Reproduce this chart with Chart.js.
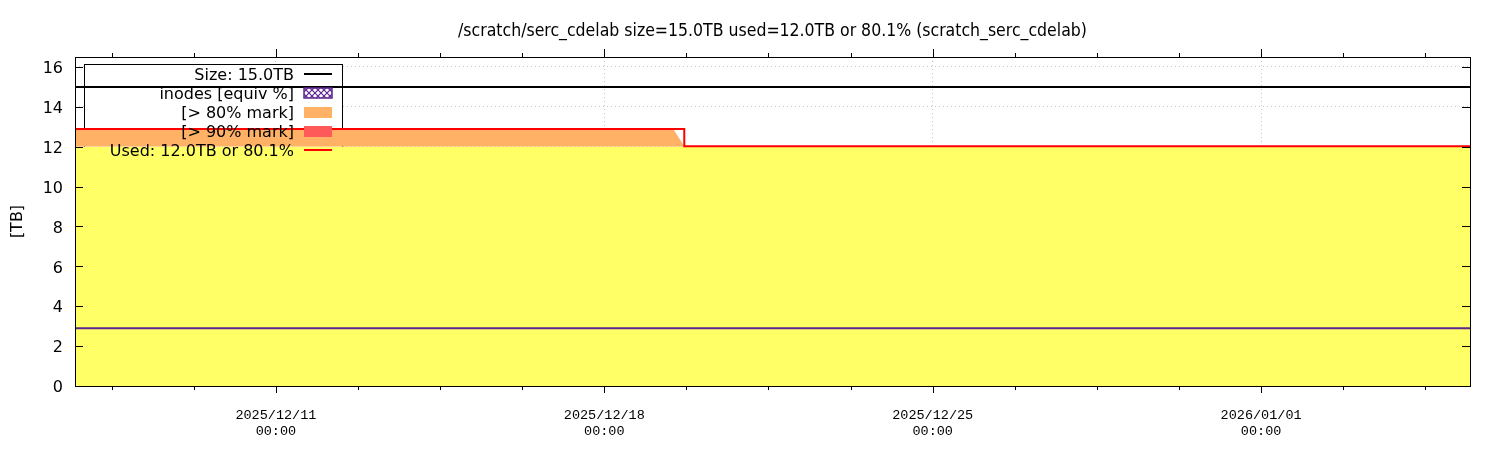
<!DOCTYPE html>
<html>
<head>
<meta charset="utf-8">
<script src="https://cdn.jsdelivr.net/npm/chart.js@4.4.1/dist/chart.umd.min.js"></script>
<style>
  html, body { margin: 0; padding: 0; background: #fff; }
  #wrap { width: 1500px; height: 450px; }
</style>
</head>
<body>
<div id="wrap"><canvas id="fs__chart"></canvas></div>
<script>
// samples (TB)
const times = ["2025-12-06 17:14", "2025-12-19 11:18", "2025-12-19 16:55", "2026-01-05 10:52"]
const usedTB = [12.89, 12.89, 12.02, 12.02]
const sizeTB = [15.0, 15.0, 15.0, 15.0]
const inodesTB = [2.9, 2.9, 2.9, 2.9]
const mark80 = 12.0
const mark90 = 13.5

const majorTicks = ["2025-12-11 00:00", "2025-12-18 00:00", "2025-12-25 00:00", "2026-01-01 00:00"]
const minorPerMajor = 4
const yTicks = [0, 2, 4, 6, 8, 10, 12, 14, 16]
const yMax = 16.5

const titleText = "/scratch/serc_cdelab size=15.0TB used=12.0TB or 80.1% (scratch_serc_cdelab)"
const legendLabels = ["Size: 15.0TB", "inodes [equiv %]", "[> 80% mark]", "[> 90% mark]", "Used: 12.0TB or 80.1%"]

const YELLOW = "#ffff66"
const ORANGE = "#ffb266"
const RED90 = "#ff5a5a"
const RED = "#ff0000"
const PURPLE = "#5e2590"

function toMs(s) {
  const [d, t] = s.split(" ")
  const [y, m, day] = d.split("-").map(Number)
  const [hh, mm] = t.split(":").map(Number)
  return Date.UTC(y, m - 1, day, hh, mm)
}
const pad2 = (n) => String(n).padStart(2, "0")

const xMin = toMs(times[0])
const xMax = toMs(times[times.length - 1])
const majorMs = majorTicks.map(toMs)
const stepMs = (majorMs[1] - majorMs[0]) / minorPerMajor

let allTicks = []
for (let v = majorMs[0]; v >= xMin; v -= stepMs) allTicks.unshift(v)
for (let v = majorMs[0] + stepMs; v <= xMax; v += stepMs) allTicks.push(v)
const isMajor = (v) => majorMs.some((m) => Math.abs(m - v) < 1000)

const pts = (arr) => times.map((t, i) => ({ x: toMs(t), y: arr[i] }))
const yellowTop = usedTB.map((v) => Math.min(v, mark80))

function hatchPattern(ctx) {
  const c = document.createElement("canvas")
  c.width = 6
  c.height = 6
  const p = c.getContext("2d")
  p.fillStyle = "#fff"
  p.fillRect(0, 0, 6, 6)
  p.strokeStyle = PURPLE
  p.lineWidth = 1.2
  p.beginPath()
  p.moveTo(0, 0); p.lineTo(6, 6)
  p.moveTo(6, 0); p.lineTo(0, 6)
  p.stroke()
  return ctx.createPattern(c, "repeat")
}

const legendBox = { x1: 84.5, y1: 64.5, x2: 342.5, y2: 160, textX: 294, swX1: 304, swX2: 332, row0: 74, rowH: 19 }

const gnuplotLook = {
  id: "gnuplotLook",
  beforeDatasetsDraw(chart) {
    const ctx = chart.ctx
    const b = legendBox
    ctx.save()
    ctx.fillStyle = "#fff"
    ctx.fillRect(b.x1, b.y1, b.x2 - b.x1, b.y2 - b.y1)
    ctx.strokeStyle = "#000"
    ctx.lineWidth = 1
    ctx.strokeRect(b.x1, b.y1, b.x2 - b.x1, b.y2 - b.y1)
    ctx.restore()
  },
  afterDatasetsDraw(chart) {
    const ctx = chart.ctx
    const a = chart.chartArea
    const xs = chart.scales.x
    const ys = chart.scales.y
    ctx.save()

    // legend text + samples
    const b = legendBox
    ctx.font = "16px 'DejaVu Sans'"
    ctx.textAlign = "right"
    ctx.textBaseline = "middle"
    legendLabels.forEach((lbl, i) => {
      const y = b.row0 + i * b.rowH
      ctx.fillStyle = "#000"
      ctx.fillText(lbl, b.textX, y + 2)
      if (i === 0 || i === 4) {
        ctx.strokeStyle = i === 0 ? "#000" : RED
        ctx.lineWidth = 2
        ctx.beginPath()
        ctx.moveTo(b.swX1, y)
        ctx.lineTo(b.swX2, y)
        ctx.stroke()
      } else if (i === 1) {
        ctx.fillStyle = hatchPattern(ctx)
        ctx.fillRect(b.swX1, y - 5, b.swX2 - b.swX1, 10)
        ctx.strokeStyle = PURPLE
        ctx.lineWidth = 1.5
        ctx.strokeRect(b.swX1, y - 5, b.swX2 - b.swX1, 10)
      } else {
        ctx.fillStyle = i === 2 ? ORANGE : RED90
        ctx.fillRect(b.swX1, y - 5, b.swX2 - b.swX1, 11)
      }
    })

    // frame
    ctx.strokeStyle = "#000"
    ctx.lineWidth = 1
    ctx.strokeRect(Math.round(a.left) + 0.5, Math.round(a.top) + 0.5, Math.round(a.right - a.left), Math.round(a.bottom - a.top))

    // tick marks
    ctx.beginPath()
    allTicks.forEach((v) => {
      const px = Math.round(xs.getPixelForValue(v)) + 0.5
      const lenB = isMajor(v) ? 7 : 4
      const lenT = isMajor(v) ? 8 : 4
      ctx.moveTo(px, a.bottom)
      ctx.lineTo(px, a.bottom + lenB)
      ctx.moveTo(px, a.top)
      ctx.lineTo(px, a.top - lenT)
    })
    yTicks.forEach((v) => {
      const py = Math.round(ys.getPixelForValue(v)) + 0.5
      ctx.moveTo(a.left, py)
      ctx.lineTo(a.left + 8, py)
      ctx.moveTo(a.right, py)
      ctx.lineTo(a.right - 8, py)
    })
    ctx.stroke()

    // title centred over plot area
    ctx.font = "17.5px 'DejaVu Sans Condensed', 'DejaVu Sans'"
    ctx.textAlign = "center"
    ctx.textBaseline = "middle"
    ctx.fillStyle = "#000"
    ctx.fillText(titleText, (a.left + a.right) / 2, 31)
    ctx.restore()
  },
}

const datasets = [
  {
    label: "used",
    data: pts(usedTB),
    stepped: true,
    borderColor: RED,
    borderWidth: 2,
    pointRadius: 0,
    fill: false,
    order: 1,
  },
  {
    label: "size",
    data: pts(sizeTB),
    borderColor: "#000",
    borderWidth: 2,
    pointRadius: 0,
    fill: false,
    order: 2,
  },
  {
    label: "inodes",
    data: pts(inodesTB),
    borderColor: PURPLE,
    borderWidth: 2,
    pointRadius: 0,
    fill: false,
    order: 3,
  },
  {
    label: "80",
    data: pts(usedTB),
    borderWidth: 0,
    pointRadius: 0,
    fill: { value: mark80, above: ORANGE, below: "transparent" },
    order: 5,
  },
  {
    label: "base",
    data: pts(yellowTop),
    borderWidth: 0,
    pointRadius: 0,
    backgroundColor: YELLOW,
    fill: "origin",
    order: 6,
  },
]
// 90% band only when it is actually crossed
if (usedTB.some((v) => v > mark90)) {
  datasets.push({
    label: "90",
    data: pts(usedTB),
    borderWidth: 0,
    pointRadius: 0,
    fill: { value: mark90, above: RED90, below: "transparent" },
    order: 4,
  })
}

const fsChart = new Chart(document.getElementById("fs__chart"), {
  type: "line",
  data: { datasets: datasets },
  plugins: [gnuplotLook],
  options: {
    responsive: true,
    maintainAspectRatio: false,
    animation: false,
    events: [],
    layout: { padding: { top: 57, right: 30, left: 0, bottom: 0 } },
    plugins: {
      legend: { display: false },
      title: { display: false },
      tooltip: { enabled: false },
    },
    scales: {
      x: {
        type: "linear",
        min: xMin,
        max: xMax,
        bounds: "data",
        afterBuildTicks: (s) => {
          s.ticks = allTicks.map((v) => ({ value: v }))
        },
        afterFit: (s) => {
          s.height = 64
        },
        ticks: {
          autoSkip: false,
          maxRotation: 0,
          padding: 21,
          color: "#000",
          font: { family: "'Liberation Mono'", size: 13.5, lineHeight: 1.2 },
          callback: (v) => {
            if (!isMajor(v)) return ""
            const d = new Date(v)
            return [
              d.getUTCFullYear() + "/" + pad2(d.getUTCMonth() + 1) + "/" + pad2(d.getUTCDate()),
              pad2(d.getUTCHours()) + ":" + pad2(d.getUTCMinutes()),
            ]
          },
        },
        grid: {
          drawTicks: false,
          lineWidth: 1,
          color: (c) => (c.tick && isMajor(c.tick.value) ? "#c4c4c4" : "transparent"),
        },
        border: { display: false, dash: [1, 3] },
      },
      y: {
        min: 0,
        max: yMax,
        afterBuildTicks: (s) => {
          s.ticks = yTicks.map((v) => ({ value: v }))
        },
        afterFit: (s) => {
          s.width = 75
        },
        ticks: {
          padding: 12,
          labelOffset: 2,
          color: "#000",
          font: { family: "'DejaVu Sans'", size: 16 },
        },
        grid: { drawTicks: false, lineWidth: 1, color: "#c4c4c4" },
        border: { display: false, dash: [1, 3] },
        title: {
          display: true,
          text: "[TB]",
          color: "#000",
          font: { family: "'DejaVu Sans'", size: 16, lineHeight: 1.2 },
          padding: { top: 8, bottom: 0 },
        },
      },
    },
  },
})
</script>
</body>
</html>
